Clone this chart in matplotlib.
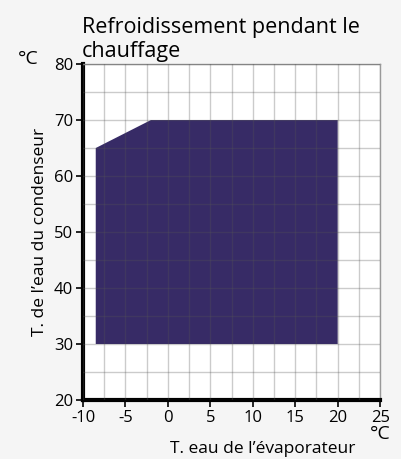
import matplotlib.pyplot as plt
from matplotlib.patches import Polygon
import numpy as np

plt.rcParams['font.family'] = ['Open Sans', 'DejaVu Sans']
plt.rcParams['axes.unicode_minus'] = False

# operating envelope (evaporator water T, condenser water T)
env_x = [-8.5, -8.5, -2, 20, 20]
env_y = [30, 65, 70, 70, 30]

x_ticks = [-10, -5, 0, 5, 10, 15, 20, 25]
y_ticks = [20, 30, 40, 50, 60, 70, 80]

fig = plt.figure(figsize=(4.01, 4.59), dpi=100, facecolor='#f5f5f5')
ax = fig.add_axes([0.207, 0.1285, 0.741, 0.732])
ax.set_facecolor('white')

ax.add_patch(Polygon(np.column_stack([env_x, env_y]), closed=True,
                     facecolor='#372b66', edgecolor='none', zorder=1))

ax.set_xlim(-10, 25)
ax.set_ylim(20, 80)
ax.set_xticks(x_ticks)
ax.set_yticks(y_ticks)
ax.set_xticks(np.arange(-10, 25.1, 2.5), minor=True)
ax.set_yticks(np.arange(20, 80.1, 5), minor=True)
ax.grid(which='both', color='#555555', alpha=0.3, linewidth=1, zorder=2)
ax.set_axisbelow(False)
ax.tick_params(which='minor', length=0)
ax.tick_params(which='major', length=5, width=1.2, color='black',
               labelsize=12, pad=2)

for s in ['top', 'right']:
    ax.spines[s].set_color('#999999')
    ax.spines[s].set_linewidth(1)
for s in ['left', 'bottom']:
    ax.spines[s].set_color('black')
    ax.spines[s].set_linewidth(3)

ax.set_ylabel("T. de l’eau du condenseur", fontsize=12.5, labelpad=4)
fig.text(0.885, 0.005, "T. eau de l’évaporateur", fontsize=12.5,
         ha='right', va='bottom')
fig.text(0.975, 0.035, "°C", fontsize=14, ha='right', va='bottom')
fig.text(0.045, 0.852, "°C", fontsize=14, ha='left', va='bottom')
fig.text(0.205, 0.866, "Refroidissement pendant le\nchauffage", fontsize=15.5,
         ha='left', va='bottom', linespacing=1.15)

fig.savefig('out.png', dpi=100, facecolor=fig.get_facecolor())
